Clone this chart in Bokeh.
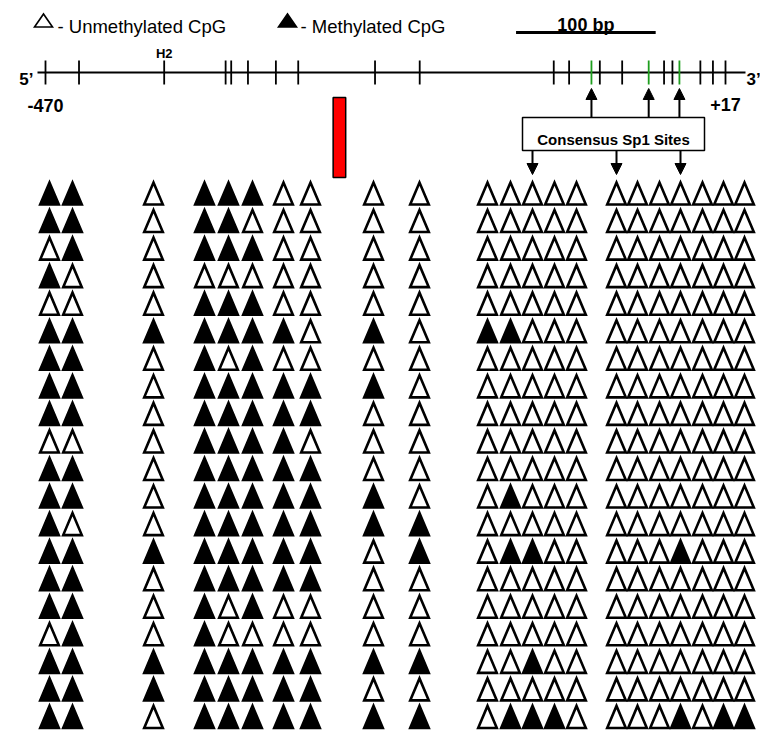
from bokeh.plotting import figure
from bokeh.models import Range1d, ColumnDataSource, Label, Arrow, NormalHead
from bokeh.embed import file_html
from bokeh.resources import INLINE

# ---------------- data ----------------
# CpG positions along the promoter map (bp, relative to TSS)
cpg_bp = [-470, -446, -385, -341, -337, -325, -305, -289, -234, -202,
          -106, -95, -79, -73, -57, -38, -27, -21, -16, -1, 8, 17]
# indices of CpGs lying in consensus Sp1 sites (drawn green)
sp1_cpg = [12, 15, 18]
# extra region marked in red on the map (bp)
red_region = [-264, -255]
# scale bar
scale_bp = 100
scale_start_bp = -133
map_labels = ["-470", "+17", "H2"]
map_label_bp = [-470, 17, -385]

# methylation status per clone (1 = methylated, 0 = unmethylated), one char per CpG
clones = [
    "11 0 111 00 0 0 00000 0000000",
    "11 0 110 00 0 0 00000 0000000",
    "01 0 111 00 0 0 00000 0000000",
    "10 0 000 00 0 0 00000 0000000",
    "00 0 111 00 0 0 00000 0000000",
    "11 1 111 10 1 0 11000 0000000",
    "11 0 101 00 0 0 00000 0000000",
    "11 0 111 11 1 0 00000 0000000",
    "11 0 111 11 0 0 00000 0000000",
    "00 0 111 10 0 0 00000 0000000",
    "11 0 111 11 0 0 00000 0000000",
    "11 0 111 11 1 0 01000 0000000",
    "10 0 111 11 1 1 00000 0000000",
    "11 1 111 11 0 1 01100 0001000",
    "11 0 111 11 0 0 00000 0000000",
    "11 0 101 00 0 0 00000 0000000",
    "01 0 100 00 0 0 00000 0000000",
    "11 1 111 11 1 1 00100 0000000",
    "11 1 111 11 0 0 00000 0000000",
    "11 0 111 11 1 1 01110 0001011",
]

# ---------------- layout (pixels) ----------------
W, H = 760, 731
COL_X = [49, 72, 153, 204, 228, 252, 283, 310, 373, 419,
         487, 510, 532, 554, 576, 616, 637, 659, 680, 702, 723, 744]
ROW0_BASE = 204
ROW_PITCH = 27.55
TRI_HW = 9.3
TRI_H = 22
MAP_Y = 72
PX_M470, PX_P17 = 45, 725
k = (17 - (-470)) / (PX_P17 - PX_M470)  # bp per px

FONT = "Liberation Sans"
GREEN = "#1e9e1e"

p = figure(width=W, height=H, x_range=Range1d(0, W), y_range=Range1d(H, 0),
           output_backend="svg", toolbar_location=None,
           x_axis_location=None, y_axis_location=None,
           min_border=0, outline_line_color=None, background_fill_color="white")
p.xgrid.grid_line_color = None
p.ygrid.grid_line_color = None
p.extra_x_ranges = {"bp": Range1d(-470 - PX_M470 * k, 17 + (W - PX_P17) * k)}


def label(x, y, text, size, bold=False, align="left", rng="default"):
    p.add_layout(Label(x=x, y=y, text=text, x_range_name=rng, text_font=FONT,
                       text_font_style="bold" if bold else "normal",
                       text_font_size=size, text_align=align,
                       text_baseline="alphabetic", text_color="black"))


# ---------------- map ----------------
p.line(x=[-470 - 8 * k, 17 + 20 * k], y=[MAP_Y, MAP_Y], x_range_name="bp",
       line_color="black", line_width=1.8)
tick_colors = [GREEN if i in sp1_cpg else "black" for i in range(len(cpg_bp))]
p.segment(x0=cpg_bp, y0=[MAP_Y - 12] * len(cpg_bp), x1=cpg_bp, y1=[MAP_Y + 12] * len(cpg_bp),
          x_range_name="bp", line_color=tick_colors, line_width=1.8)

# scale bar
p.line(x=[scale_start_bp, scale_start_bp + scale_bp], y=[32, 32], x_range_name="bp",
       line_color="black", line_width=3)
label(scale_start_bp + scale_bp / 2, 24, f"{scale_bp} bp", "18px", True, "center", "bp")

# map labels
label(map_label_bp[0], 105, map_labels[0], "18px", True, "center", "bp")
label(map_label_bp[1], 104, map_labels[1], "18px", True, "center", "bp")
label(map_label_bp[2], 53, map_labels[2], "13px", True, "center", "bp")
label(33, 79, "5\u2019", "17px", True, "right")
label(746, 79, "3\u2019", "17px", True, "left")

# red region
p.quad(left=[red_region[0]], right=[red_region[1]], top=[97], bottom=[177], x_range_name="bp",
       fill_color="#ff0000", line_color="black", line_width=1.5)

# Sp1 box and arrows
p.quad(left=[522], right=[704], top=[117], bottom=[150], fill_color="white",
       line_color="black", line_width=1.5)
label(613, 139, "Consensus Sp1 Sites", "15px", True, "center")
up_src = ColumnDataSource(dict(x=[cpg_bp[i] for i in sp1_cpg], y0=[117] * 3, y1=[88] * 3))
p.add_layout(Arrow(end=NormalHead(size=11, fill_color="black", line_color="black"),
                   x_start="x", y_start="y0", x_end="x", y_end="y1", source=up_src,
                   x_range_name="bp", line_width=2, line_color="black"))
dn_src = ColumnDataSource(dict(x=[COL_X[i] for i in sp1_cpg], y0=[150] * 3, y1=[174] * 3))
p.add_layout(Arrow(end=NormalHead(size=11, fill_color="black", line_color="black"),
                   x_start="x", y_start="y0", x_end="x", y_end="y1", source=dn_src,
                   line_width=2, line_color="black"))

# ---------------- legend ----------------
leg = ColumnDataSource(dict(
    xs=[[43 - 9, 43 + 9, 43], [287 - 9, 287 + 9, 287]],
    ys=[[26.5, 26.5, 13.5], [26.5, 26.5, 13.5]],
    fc=["white", "black"]))
p.patches(xs="xs", ys="ys", source=leg, fill_color="fc", line_color="black",
          line_width=1.6, line_join="miter")
label(57, 26, "- Unmethylated CpG", "18.5px")
label(300, 26, "- Methylated CpG", "18.5px")

# ---------------- triangles ----------------
xs, ys, fc = [], [], []
for r, row in enumerate(clones):
    states = row.replace(" ", "")
    base = ROW0_BASE + r * ROW_PITCH
    for c, s in enumerate(states):
        cx = COL_X[c]
        xs.append([cx - TRI_HW, cx + TRI_HW, cx])
        ys.append([base, base, base - TRI_H])
        fc.append("black" if s == "1" else "white")
tri = ColumnDataSource(dict(xs=xs, ys=ys, fc=fc))
p.patches(xs="xs", ys="ys", source=tri, fill_color="fc", line_color="black",
          line_width=2.6, line_join="miter")

open("out.html", "w").write(file_html(p, INLINE))
